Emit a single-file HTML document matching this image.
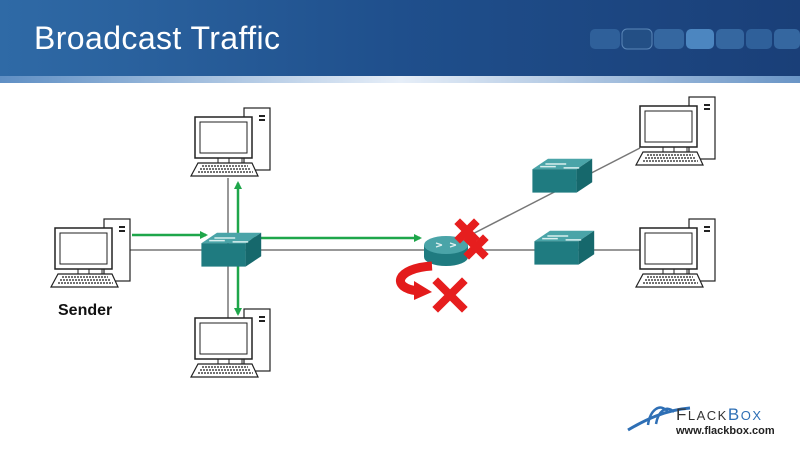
<!DOCTYPE html>
<html><head><meta charset="utf-8"><style>
body{margin:0;width:800px;height:450px;overflow:hidden;background:#fff;font-family:"Liberation Sans",sans-serif}
</style></head><body>
<svg width="800" height="450" viewBox="0 0 800 450" xmlns="http://www.w3.org/2000/svg">
<defs>
<linearGradient id="hd" x1="0" y1="0" x2="1" y2="0"><stop offset="0" stop-color="#2f6aa6"/><stop offset="0.5" stop-color="#1f4f8c"/><stop offset="1" stop-color="#1a3f78"/></linearGradient>
<linearGradient id="st" x1="0" y1="0" x2="1" y2="0"><stop offset="0" stop-color="#5f8fc4"/><stop offset="0.5" stop-color="#e6eef8"/><stop offset="1" stop-color="#6a95c6"/></linearGradient>
<marker id="ga" markerWidth="8" markerHeight="8" refX="6" refY="4" orient="auto" markerUnits="userSpaceOnUse"><path d="M0,0 L8,4 L0,8z" fill="#1ea64a"/></marker>
<g id="pc">
<rect x="104" y="219" width="26" height="62" fill="#fff" stroke="#222" stroke-width="1.2"/>
<rect x="119" y="226" width="6" height="2" fill="#222"/><rect x="119" y="230" width="6" height="2" fill="#222"/>
<rect x="55" y="228" width="57" height="41" fill="#fff" stroke="#222" stroke-width="1.5"/>
<rect x="60" y="233" width="47" height="31" fill="#fff" stroke="#222" stroke-width="1"/>
<line x1="78" y1="269" x2="78" y2="274" stroke="#222"/><line x1="89" y1="269" x2="89" y2="274" stroke="#222"/><line x1="102" y1="269" x2="102" y2="274" stroke="#222"/>
<path d="M58,274 L112,274 L118,287 L51,287z" fill="#fff" stroke="#222" stroke-width="1.2"/>
<path d="M62,277 L108,277 M60,280 L111,280 M58,283 L113,283" stroke="#444" stroke-width="1.5" stroke-dasharray="2,1"/>
</g>
<g id="sw">
<path d="M-22,-6 L-10,-14 L24,-14 L12,-6z" fill="#4aa4a8"/>
<rect x="-22" y="-6" width="34" height="18" fill="#1f7b80"/>
<path d="M12,-6 L24,-14 L24,4 L12,12z" fill="#16686c"/>
<path d="M-12,-10 L4,-10 M2,-7 L14,-7 M-16,-8 L-4,-8" stroke="#d8eeee" stroke-width="1.2"/>
</g>
</defs>
<rect x="0" y="0" width="800" height="78" fill="url(#hd)"/>
<rect x="0" y="76" width="800" height="7" fill="url(#st)"/>
<text x="34" y="49" font-size="32" fill="#fff" font-family="'Liberation Sans Narrow','Liberation Sans',sans-serif" textLength="246">Broadcast Traffic</text>
<g fill="#2f609a"><rect x="590" y="29" width="30" height="20" rx="5"/><rect x="622" y="29" width="30" height="20" rx="5" fill="#234f85" stroke="#5a86b8"/><rect x="654" y="29" width="30" height="20" rx="5" fill="#3567a0"/><rect x="686" y="29" width="28" height="20" rx="5" fill="#4c86c0"/><rect x="716" y="29" width="28" height="20" rx="5" fill="#3567a0"/><rect x="746" y="29" width="26" height="20" rx="5"/><rect x="774" y="29" width="26" height="20" rx="5" fill="#3567a0"/></g>

<g stroke="#777" stroke-width="1.5" fill="none">
<line x1="130" y1="250" x2="640" y2="250"/>
<line x1="228" y1="178" x2="228" y2="318"/>
<line x1="455" y1="243" x2="640" y2="148"/>
</g>
<g stroke="#1ea64a" stroke-width="2.5" fill="none">
<line x1="132" y1="235" x2="206" y2="235" marker-end="url(#ga)"/>
<line x1="238" y1="234" x2="238" y2="183" marker-end="url(#ga)"/>
<line x1="238" y1="264" x2="238" y2="314" marker-end="url(#ga)"/>
<line x1="250" y1="238" x2="420" y2="238" marker-end="url(#ga)"/>
</g>
<use href="#pc"/>
<use href="#pc" transform="translate(140,-111)"/>
<use href="#pc" transform="translate(140,90)"/>
<use href="#pc" transform="translate(585,-122)"/>
<use href="#pc" transform="translate(585,0)"/>
<use href="#sw" transform="translate(230,251) scale(1.3)"/>
<use href="#sw" transform="translate(561,177) scale(1.3)"/>
<use href="#sw" transform="translate(563,249) scale(1.3)"/>
<!-- router -->
<g>
<path d="M424,245 L424,257 A22,9 0 0 0 468,257 L468,245z" fill="#1f7b80"/>
<ellipse cx="446" cy="245" rx="22" ry="9" fill="#4aa4a8"/>
<path d="M436,243 l6,2 M450,247 l6,-2 M436,247 l6,-2 M450,243 l6,2" stroke="#e0f0f0" stroke-width="1.2"/>
</g>
<text x="58" y="315" font-size="16" font-weight="bold" fill="#111">Sender</text>
<!-- red curved arrow -->
<path d="M432,266 C396,268 390,288 418,291" stroke="#e31b1b" stroke-width="9" fill="none"/>
<path d="M414,281 L432,292 L414,300z" fill="#e31b1b"/>
<g stroke="#e61e1e" stroke-width="8" stroke-linecap="square">
<path d="M438,283 L462,307 M462,283 L438,307"/>
<path d="M460,224 L474,238 M474,224 L460,238"/>
<path d="M469,240 L483,254 M483,240 L469,254"/>
</g>
<!-- logo -->
<path d="M628,430 C645,420 665,410 690,408" stroke="#2e6fb5" stroke-width="3" fill="none"/>
<path d="M648,425 C650,410 660,402 668,412 M656,424 C658,412 666,404 674,412" stroke="#2e6fb5" stroke-width="2.5" fill="none"/>
<text x="676" y="420" font-size="17" fill="#333" letter-spacing="1.5">F<tspan font-size="13">LACK</tspan><tspan fill="#2e6fb5">B<tspan font-size="13">OX</tspan></tspan></text>
<text x="676" y="434" font-size="11" fill="#222" font-weight="bold">www.flackbox.com</text>
</svg>
</body></html>
